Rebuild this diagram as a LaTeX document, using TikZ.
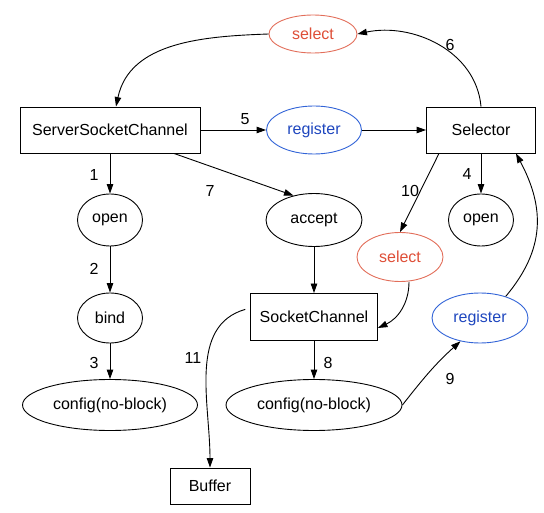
\documentclass[tikz,border=0pt]{standalone}
\usepackage{fontspec}
\setmainfont{Liberation Sans}
\usetikzlibrary{shapes.geometric,arrows.meta}
\definecolor{selred}{RGB}{222,78,55}
\definecolor{selredline}{RGB}{226,110,90}
\definecolor{regblue}{RGB}{30,70,190}
\definecolor{regblueline}{RGB}{50,100,215}
\begin{document}
\begin{tikzpicture}[x=1pt,y=-1pt,
  font=\fontsize{16}{19}\selectfont,
  line width=0.9pt,
  box/.style={draw, rectangle, inner sep=0pt, minimum width=#1},
  oval/.style n args={2}{draw, ellipse, inner sep=0pt, minimum width=#1, minimum height=#2},
  redoval/.style={draw=selredline, text=selred},
  blueoval/.style={draw=regblueline, text=regblue},
  arr/.style={-{Triangle[length=9.5pt,width=6.5pt]}},
  lbl/.style={inner sep=0pt}]
\useasboundingbox (0,0) rectangle (544,513);

% nodes
\node[oval={88}{38}, redoval] (sel1) at (313,34) {select};
\node[box=180, minimum height=46pt] (ssc) at (110,130) {ServerSocketChannel};
\node[oval={95}{48}, blueoval] (reg1) at (314,130) {register};
\node[box=109, minimum height=46pt] (selector) at (481,130) {Selector};
\node[oval={65}{52}] (open1) at (110,220) {open};
\node[oval={96}{53}] (accept) at (314,220) {accept};
\node[oval={65}{52}] (open2) at (481,220) {open};
\node[oval={86}{49}, redoval] (sel2) at (400,257) {select};
\node[oval={65}{50}] (bind) at (110,318) {bind};
\node[box=127, minimum height=47pt] (sc) at (314,317) {SocketChannel};
\node[oval={96}{50}, blueoval] (reg2) at (480,318) {register};
\node[oval={175}{51}] (cfg1) at (110,405) {config(no-block)};
\node[oval={176}{51}] (cfg2) at (314,405) {config(no-block)};
\node[box=80, minimum height=36pt] (buffer) at (210,486) {Buffer};

% connectors
\draw[arr] (sel1.west) to[out=182,in=78] ([xshift=6pt]ssc.north);
\draw[arr] (selector.north) to[out=95,in=12] (sel1.east);
\draw[arr] (ssc.east) -- (reg1.west);
\draw[arr] (reg1.east) -- (selector.west);
\draw[arr] (ssc.south) -- (open1.north);
\draw[arr] (open1.south) -- (bind.north);
\draw[arr] (bind.south) -- (cfg1.north);
\draw[arr] ([xshift=64pt]ssc.south) -- (accept.130);
\draw[arr] ([xshift=-42pt]selector.south) -- (sel2.north);
\draw[arr] (selector.south) -- (open2.north);
\draw[arr] (accept.south) -- (sc.north);
\draw[arr] ([xshift=9pt]sel2.south) to[out=-90,in=25] ([yshift=-11pt]sc.east);
\draw[arr] (sc.south) -- (cfg2.north);
\draw[arr] (cfg2.east) to[out=52,in=222] (reg2.230);
\draw[arr] (reg2.40) to[out=50,in=-62,looseness=1.1] ([xshift=35pt]selector.south);
\draw[arr, shorten <=5pt] ([yshift=9pt]sc.west) to[out=196,in=90] (buffer.north);

% labels
\node[lbl] (l1) at (94,175) {1};
\node[lbl] (l2) at (94,269) {2};
\node[lbl] (l3) at (94,363) {3};
\node[lbl] (l4) at (467,174) {4};
\node[lbl] (l5) at (245,119) {5};
\node[lbl] (l6) at (450,45) {6};
\node[lbl] (l7) at (210,191) {7};
\node[lbl] (l8) at (328,363) {8};
\node[lbl] (l9) at (450,379) {9};
\node[lbl] (l10) at (410,191) {10};
\node[lbl] (l11) at (193,358) {11};
\end{tikzpicture}
\end{document}
